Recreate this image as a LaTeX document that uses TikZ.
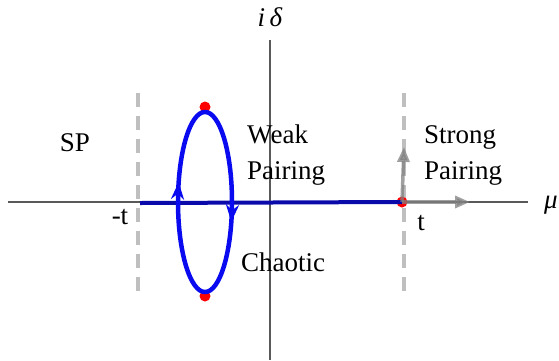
\documentclass[tikz,border=0pt]{standalone}
\usepackage{fontspec}
\setmainfont{Liberation Serif}
\usetikzlibrary{arrows.meta,positioning,decorations.markings}
\definecolor{loopblue}{RGB}{10,10,240}
\definecolor{lineblue}{RGB}{10,10,170}
\tikzstyle{axis} = [draw=black!65, line width=1.2pt]
\tikzstyle{boundary} = [draw=black!25, line width=4pt, dash pattern=on 14pt off 9pt]
\tikzstyle{lbl} = [font=\fontsize{27}{36}\selectfont, align=left, inner sep=0pt]
\tikzstyle{dot} = [circle, fill=red, inner sep=0pt, minimum size=11pt]
\tikzstyle{flow} = [draw=black!50, opacity=0.75, line width=3.5pt, -{Triangle[length=15pt,width=12pt]}]

\begin{document}
\begin{tikzpicture}[x=1pt, y=-1pt]
\useasboundingbox (0,0) rectangle (559,360);

% axes
\coordinate (xl) at (8,202);
\coordinate (xr) at (528,202);
\coordinate (yt) at (270,40);
\coordinate (yb) at (270,360);
\draw[axis] (xl) -- (xr);
\draw[axis] (yt) -- (yb);
\node[lbl] (mu) at (551,205) {\textit{μ}};
\node[lbl] (idelta) at (270,17) {\textit{i}\,\textit{δ}};

% phase boundaries at -t and t
\coordinate (bltop) at (138,93);
\coordinate (blbot) at (138,300);
\coordinate (brtop) at (404,93);
\coordinate (brbot) at (404,300);
\draw[boundary] (bltop) -- (blbot);
\draw[boundary] (brtop) -- (brbot);

% exceptional points
\node[dot] (ptop) at (205,107) {};
\node[dot] (pbot) at (205,296) {};
\node[dot] (pt) at (402,202) {};

% real segment
\coordinate (mt) at (140,203);
\draw[draw=lineblue, line width=4pt] (mt) -- (pt.center);

% loop
\draw[draw=loopblue, line width=4.5pt, decoration={markings,
    mark=at position 0.05 with {\arrow{Stealth[length=17pt,width=13pt]}},
    mark=at position 0.55 with {\arrow{Stealth[length=17pt,width=13pt]}}},
    postaction={decorate}] (205,202) ellipse (27 and 90);

% strong pairing directions
\coordinate (sup) at (404,147);
\coordinate (sright) at (470,202);
\draw[flow] (pt.center) -- (sup);
\draw[flow] (pt.center) -- (sright);

% regions
\node[lbl] (sp) at (75,143) {SP};
\node[lbl, anchor=west] (weak) at (247,155) {Weak\\Pairing};
\node[lbl, anchor=west] (strong) at (424,155) {Strong\\Pairing};
\node[lbl, anchor=west] (chaotic) at (241,262) {Chaotic};
\node[lbl] (mtlbl) at (120,217) {-t};
\node[lbl] (tlbl) at (421,223) {t};

\end{tikzpicture}
\end{document}
